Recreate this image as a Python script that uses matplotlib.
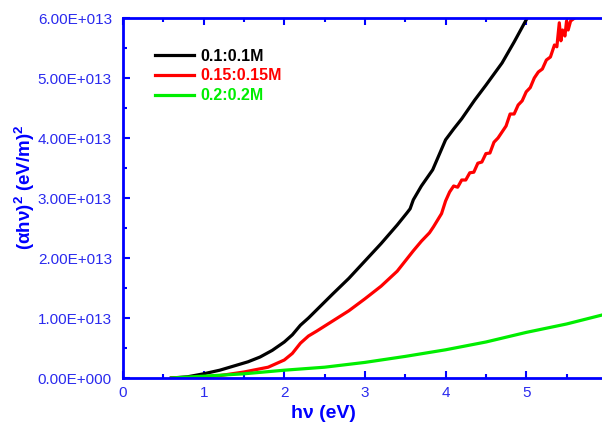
import matplotlib
matplotlib.use("Agg")
import matplotlib.pyplot as plt
from matplotlib.ticker import FuncFormatter, MultipleLocator, FixedLocator

plt.rcParams['font.family'] = ['Liberation Sans', 'DejaVu Sans']
plt.rcParams['mathtext.fontset'] = 'custom'
plt.rcParams['mathtext.rm'] = 'Liberation Sans'
plt.rcParams['mathtext.bf'] = 'Liberation Sans:bold'

# photon energy (eV) and (alpha h nu)^2 in units of 1e13 (eV/m)^2
x_01 = [0.6, 0.8, 1.0, 1.2, 1.4, 1.55, 1.7, 1.85, 2.0, 2.1, 2.2, 2.3, 2.45, 2.6,
        2.8, 3.0, 3.2, 3.4, 3.52, 3.56, 3.6, 3.7, 3.84, 4.0, 4.1, 4.2, 4.36, 4.5,
        4.7, 4.85, 5.0, 5.05]
y_01 = [0, 0.02, 0.07, 0.13, 0.21, 0.27, 0.35, 0.46, 0.6, 0.72, 0.88, 1.0, 1.2, 1.4,
        1.66, 1.95, 2.24, 2.55, 2.75, 2.82, 2.97, 3.2, 3.47, 3.97, 4.15, 4.32, 4.63, 4.88,
        5.25, 5.6, 5.97, 6.1]

x_015 = [0.6, 0.8, 1.0, 1.2, 1.5, 1.8, 2.0, 2.1, 2.2, 2.3, 2.4, 2.6, 2.8, 3.0, 3.2,
         3.4, 3.5, 3.6, 3.7, 3.75, 3.8, 3.85, 3.9, 3.95, 4.0, 4.05, 4.1, 4.15, 4.2,
         4.25, 4.3, 4.35, 4.4, 4.45, 4.5, 4.55, 4.6, 4.65, 4.7, 4.75, 4.8, 4.85, 4.9,
         4.95, 5.0, 5.05, 5.1, 5.15, 5.2, 5.25, 5.3, 5.35, 5.38, 5.41, 5.43, 5.45,
         5.48, 5.5, 5.52, 5.55, 5.58, 5.6]
y_015 = [0, 0.005, 0.02, 0.04, 0.1, 0.18, 0.3, 0.41, 0.58, 0.7, 0.78, 0.95, 1.12, 1.32,
         1.53, 1.78, 1.95, 2.12, 2.28, 2.35, 2.42, 2.52, 2.63, 2.74, 2.95, 3.1, 3.2, 3.18,
         3.3, 3.3, 3.42, 3.43, 3.58, 3.6, 3.74, 3.75, 3.93, 4.0, 4.1, 4.2, 4.4, 4.4,
         4.55, 4.62, 4.77, 4.84, 5.0, 5.1, 5.15, 5.3, 5.35, 5.55, 5.52, 5.92, 5.62, 5.8,
         5.7, 5.95, 5.8, 5.95, 5.98, 6.0]

x_02 = [0.6, 1.0, 1.5, 2.0, 2.5, 3.0, 3.5, 4.0, 4.5, 5.0, 5.5, 6.0]
y_02 = [0, 0.03, 0.07, 0.13, 0.18, 0.26, 0.36, 0.47, 0.6, 0.76, 0.9, 1.07]

x_ticks = [0, 1, 2, 3, 4, 5]

blue = '#0000ff'
tick_blue = '#2a2aee'

fig = plt.figure(figsize=(6.02, 4.23), dpi=100)
ax = fig.add_axes([123 / 602, 45 / 423, 500 / 602, 360 / 423])

ax.plot(x_01, [v * 1e13 for v in y_01], color='black', lw=2.3, label='0.1:0.1M')
ax.plot(x_015, [v * 1e13 for v in y_015], color='#ff0000', lw=2.3, label='0.15:0.15M')
ax.plot(x_02, [v * 1e13 for v in y_02], color='#00ee00', lw=2.3, label='0.2:0.2M')

ax.set_xlim(0, 6.2)
ax.set_ylim(0, 6e13)

def yfmt(v, pos):
    if abs(v) < 1:
        return '0.00E+000'
    return f'{v / 1e13:.2f}E+013'

ax.yaxis.set_major_formatter(FuncFormatter(yfmt))
ax.yaxis.set_major_locator(MultipleLocator(1e13))
ax.yaxis.set_minor_locator(MultipleLocator(0.5e13))
ax.xaxis.set_major_locator(FixedLocator(x_ticks))
ax.xaxis.set_minor_locator(FixedLocator([t + 0.5 for t in x_ticks]))

for s in ax.spines.values():
    s.set_color(blue)
    s.set_linewidth(2)
ax.tick_params(which='both', direction='in', colors=blue, labelcolor=tick_blue,
               labelsize=11, top=True, right=False)
ax.tick_params(which='major', length=5, width=1.5)
ax.tick_params(which='minor', length=3, width=1.5)
ax.tick_params(axis='x', pad=6)
ax.tick_params(axis='y', pad=8)

ax.set_xlabel('hν (eV)', color=blue, fontsize=14, fontweight='bold')
ax.xaxis.set_label_coords(0.4, -0.075)
ax.set_ylabel(r'(αhν)$^{\mathbf{2}}$ (eV/m)$^{\mathbf{2}}$', color=blue,
              fontsize=13.5, fontweight='bold')
ax.yaxis.set_label_coords(-0.172, 0.53)

leg = ax.legend(loc='upper left', bbox_to_anchor=(0.035, 0.955), frameon=False,
                handlelength=2.45, handletextpad=0.4, labelspacing=0.3,
                prop={'weight': 'bold', 'size': 11.5}, labelcolor='linecolor')

fig.savefig('out.png', dpi=100)
